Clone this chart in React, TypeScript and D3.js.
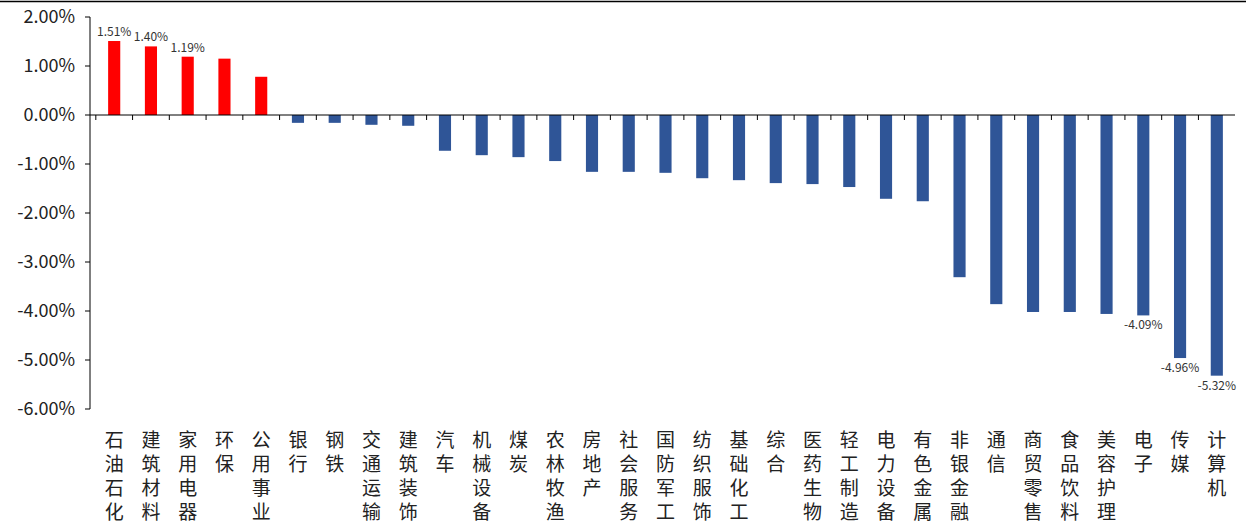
import React from 'react';
import * as d3 from 'd3';

const categories = ['石油石化','建筑材料','家用电器','环保','公用事业','银行','钢铁','交通运输','建筑装饰','汽车','机械设备','煤炭','农林牧渔','房地产','社会服务','国防军工','纺织服饰','基础化工','综合','医药生物','轻工制造','电力设备','有色金属','非银金融','通信','商贸零售','食品饮料','美容护理','电子','传媒','计算机'];
const values = [1.51,1.40,1.19,1.15,0.78,-0.16,-0.16,-0.20,-0.22,-0.73,-0.82,-0.86,-0.94,-1.16,-1.16,-1.18,-1.29,-1.33,-1.39,-1.41,-1.47,-1.71,-1.76,-3.31,-3.86,-4.02,-4.02,-4.06,-4.09,-4.96,-5.32];
const yTicks = [2,1,0,-1,-2,-3,-4,-5,-6];
const labeled = ['石油石化','建筑材料','家用电器','电子','传媒','计算机'];

const W = 1246, H = 521;
const font = '"Microsoft YaHei","Noto Sans CJK SC",sans-serif';

export default function App() {
  const x = d3.scaleBand<string>().domain(categories).range([96, 1235]).paddingInner(0.67).paddingOuter(0.33);
  const y = d3.scaleLinear().domain([-6, 2]).range([409, 17]);
  const y0 = y(0);
  return (
    <svg width={W} height={H} style={{ position: 'absolute', left: 0, top: 0 }}>
      <rect width={W} height={H} fill="#fff" />
      <line x1={0} x2={W} y1={1.5} y2={1.5} stroke="#000" strokeWidth={1.5} />
      <line x1={90} x2={90} y1={17} y2={409} stroke="#000" />
      {yTicks.map(t => (
        <g key={t}>
          <line x1={85} x2={90} y1={y(t)} y2={y(t)} stroke="#000" />
          <text x={75} y={y(t)} dy="0.35em" textAnchor="end" fontSize={18} fontFamily={font} fill="#222">{t.toFixed(2)}%</text>
        </g>
      ))}
      {categories.map((c, i) => {
        const v = values[i];
        const bx = x(c)!;
        return (
          <g key={c}>
            <rect x={bx} width={x.bandwidth()} y={Math.min(y(v), y0)} height={Math.abs(y(v) - y0)} fill={v > 0 ? '#ff0000' : '#2f5597'} />
            {labeled.includes(c) && (
              <text x={bx + x.bandwidth() / 2} y={v > 0 ? y(v) - 5 : y(v) + 14} textAnchor="middle" fontSize={12} fontFamily={font} fill="#333">{v.toFixed(2)}%</text>
            )}
            {c.split('').map((ch, k) => (
              <text key={k} x={bx + x.bandwidth() / 2} y={447 + k * 24} textAnchor="middle" fontSize={19} fontFamily={font} fill="#222">{ch}</text>
            ))}
          </g>
        );
      })}
      <line x1={90} x2={1235} y1={y0} y2={y0} stroke="#000" />
      {categories.map((c, i) => {
        const tx = x(c)! - x.step() * x.paddingInner() / 2;
        return <line key={i} x1={tx} x2={tx} y1={y0} y2={y0 + 5} stroke="#000" />;
      })}
    </svg>
  );
}
